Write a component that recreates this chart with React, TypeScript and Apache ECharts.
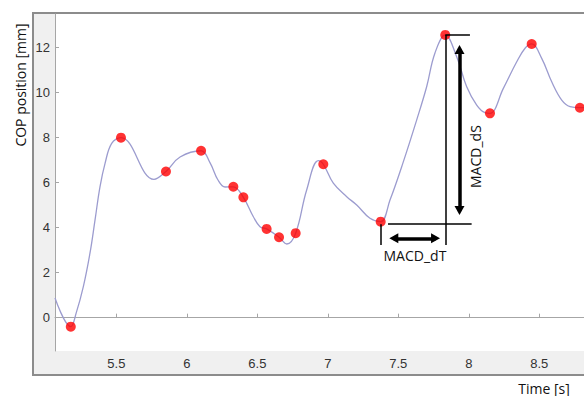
import React, { useEffect, useRef } from "react";
import * as echarts from "echarts";

// COP trajectory (time [s], position [mm])
const curveT = [5.065, 5.177, 5.215, 5.266, 5.313, 5.349, 5.384, 5.42, 5.467, 5.533, 5.767, 5.852, 5.952, 6.101, 6.165, 6.221, 6.271, 6.33, 6.401, 6.472, 6.519, 6.566, 6.654, 6.709, 6.772, 6.85, 6.933, 6.968, 7.039, 7.134, 7.205, 7.299, 7.375, 7.441, 7.533, 7.63, 7.701, 7.76, 7.833, 7.914, 7.985, 8.056, 8.115, 8.15, 8.245, 8.34, 8.399, 8.446, 8.517, 8.588, 8.659, 8.718, 8.788, 8.86];
const curveY = [0.87, -0.4, 0.2, 1.38, 2.86, 4.34, 5.81, 6.85, 7.74, 7.99, 6.14, 6.49, 7.13, 7.41, 6.87, 6.11, 5.8, 5.81, 5.34, 4.48, 4.04, 3.94, 3.57, 3.27, 3.75, 5.67, 6.97, 6.81, 5.97, 5.37, 5.0, 4.41, 4.26, 5.22, 6.87, 8.77, 10.25, 11.75, 12.55, 11.58, 10.25, 9.44, 9.1, 9.07, 10.18, 11.36, 11.96, 12.15, 11.51, 10.47, 9.66, 9.37, 9.32, 9.35];

// detected points (red)
const peakT = [5.177, 5.533, 5.852, 6.101, 6.33, 6.401, 6.566, 6.654, 6.772, 6.968, 7.375, 7.833, 8.15, 8.446, 8.788];
const peakY = [-0.4, 7.99, 6.49, 7.41, 5.81, 5.34, 3.94, 3.57, 3.75, 6.81, 4.26, 12.55, 9.07, 12.15, 9.32];

const xRange = [5.065, 9.0];
const yRange = [-1.48, 13.48];
const xTickStep = 0.5;
const yTickStep = 2;

// annotation geometry, data units
const guideLines = [
  [[7.833, 12.55], [7.833, 3.23]],
  [[7.833, 12.55], [8.008, 12.55]],
  [[7.427, 4.19], [8.02, 4.19]],
  [[7.375, 4.15], [7.375, 3.23]],
];
const arrowLines = [
  [[7.468, 3.52], [7.764, 3.52]],
  [[7.934, 11.9], [7.934, 4.76]],
];
const dtLabelAt = [7.618, 2.78];
const dsLabelAt = [8.051, 7.15];

const xName = "Time [s]";
const yName = "COP position [mm]";

const isStep = (v: number, s: number) => Math.abs(v / s - Math.round(v / s)) < 1e-6;

export default function App() {
  const ref = useRef<HTMLDivElement>(null);
  useEffect(() => {
    if (!ref.current) return;
    const chart = echarts.init(ref.current, undefined, { renderer: "svg" });
    const tickFont = { fontFamily: "Liberation Sans", fontSize: 13, color: "#333" };
    const frame = [
      {
        type: "rect",
        id: "outer",
        z: -10,
        shape: { x: 33, y: 13, width: 640, height: 362 },
        style: { fill: "#f0f0f0", stroke: "#8c8c8c", lineWidth: 2 },
      },
      {
        type: "text",
        id: "yname",
        x: 20,
        y: 85,
        rotation: Math.PI / 2,
        style: { text: yName, fill: "#111", font: "14px 'Open Sans'", align: "center", verticalAlign: "middle" },
      },
      {
        type: "text",
        id: "xname",
        x: 544,
        y: 388,
        style: { text: xName, fill: "#111", font: "14px 'Open Sans'", align: "center", verticalAlign: "middle" },
      },
    ];
    const option: any = {
      animation: false,
      grid: { left: 55, top: 14, width: 554.8, height: 337, show: true, backgroundColor: "#fff", borderWidth: 0 },
      xAxis: {
        type: "value",
        min: xRange[0],
        max: xRange[1],
        splitNumber: 8,
        axisLine: { show: true, lineStyle: { color: "#a6a6a6", width: 1 } },
        axisTick: { show: true, inside: true, length: 4, lineStyle: { color: "#a6a6a6" } },
        splitLine: { show: false },
        axisLabel: {
          ...tickFont,
          margin: 6,
          showMinLabel: false,
          showMaxLabel: false,
          formatter: (v: number) => (isStep(v, xTickStep) ? String(v) : ""),
        },
      },
      yAxis: {
        type: "value",
        min: yRange[0],
        max: yRange[1],
        splitNumber: 7,
        axisLine: { show: true, lineStyle: { color: "#a6a6a6", width: 1 } },
        axisTick: { show: true, inside: true, length: 4, lineStyle: { color: "#a6a6a6" } },
        splitLine: { show: false },
        axisLabel: {
          ...tickFont,
          margin: 5,
          showMinLabel: false,
          showMaxLabel: false,
          formatter: (v: number) => (isStep(v, yTickStep) ? String(v) : ""),
        },
      },
      series: [
        {
          type: "line",
          data: curveT.map((t, i) => [t, curveY[i]]),
          smooth: 0.4,
          symbol: "none",
          lineStyle: { color: "#9c9ccf", width: 1.3 },
          z: 2,
        },
        {
          type: "scatter",
          data: peakT.map((t, i) => [t, peakY[i]]),
          symbolSize: 10,
          itemStyle: { color: "#ff0000" },
          z: 3,
          markLine: {
            silent: true,
            animation: false,
            label: { show: false },
            symbol: "none",
            data: [
              ...guideLines.map((l) => [
                { coord: l[0], symbol: "none", lineStyle: { color: "#000", width: 1.5, type: "solid" } },
                { coord: l[1], symbol: "none", lineStyle: { color: "#000", width: 1.5, type: "solid" } },
              ]),
              ...arrowLines.map((l) => [
                { coord: l[0], symbol: "triangle", symbolSize: [10, 9], lineStyle: { color: "#000", width: 3.5, type: "solid" }, itemStyle: { color: "#000" } },
                { coord: l[1], symbol: "triangle", symbolSize: [10, 9], lineStyle: { color: "#000", width: 3.5, type: "solid" }, itemStyle: { color: "#000" } },
              ]),
            ],
          },
        },
      ],
      graphic: frame,
    };
    chart.setOption(option);
    const dt = chart.convertToPixel({ gridIndex: 0 }, dtLabelAt) as number[];
    const ds = chart.convertToPixel({ gridIndex: 0 }, dsLabelAt) as number[];
    chart.setOption({
      graphic: [
        ...frame,
        {
          type: "text",
          id: "dt",
          x: dt[0],
          y: dt[1],
          z: 10,
          style: { text: "MACD_dT", fill: "#111", font: "14px 'Open Sans'", align: "center", verticalAlign: "middle" },
        },
        {
          type: "text",
          id: "ds",
          x: ds[0],
          y: ds[1],
          z: 10,
          rotation: Math.PI / 2,
          style: { text: "MACD_dS", fill: "#111", font: "14px 'Open Sans'", align: "center", verticalAlign: "middle" },
        },
      ],
    });
    return () => chart.dispose();
  }, []);
  return (
    <div style={{ position: "fixed", left: 0, top: 0, width: 584, height: 396, overflow: "hidden", background: "#fff" }}>
      <div ref={ref} style={{ width: 640, height: 396 }} />
    </div>
  );
}
